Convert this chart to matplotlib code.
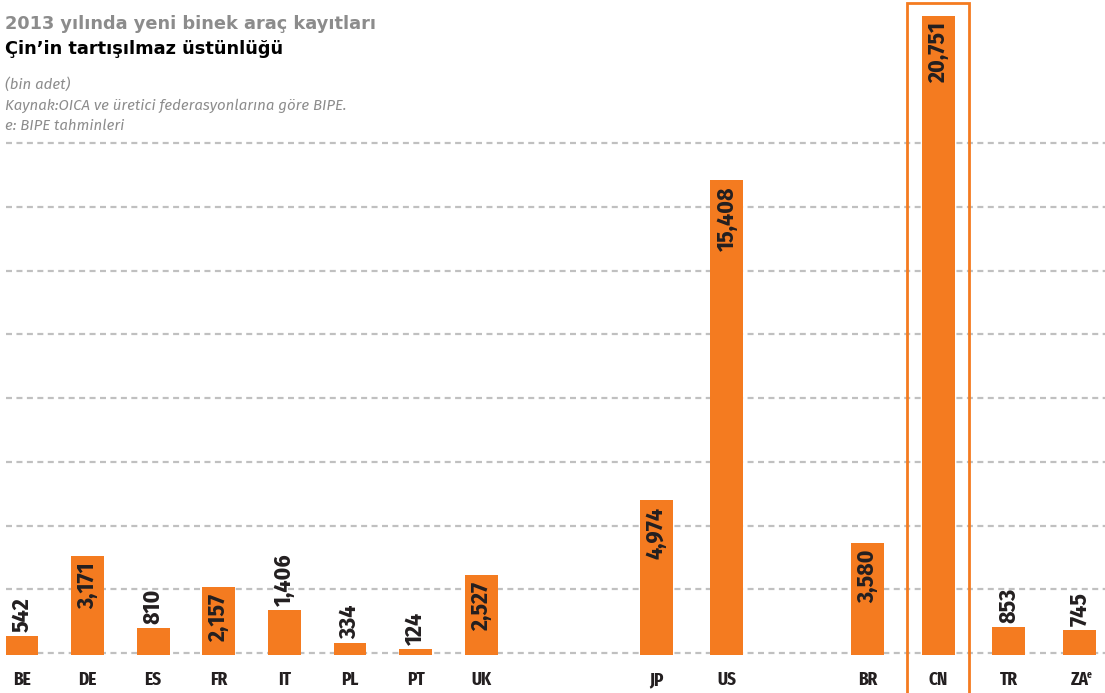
import numpy as np
import matplotlib.pyplot as plt
from matplotlib.patches import Rectangle
from matplotlib.transforms import blended_transform_factory

# 2013 new passenger car registrations (thousand units)
europe = ["BE", "DE", "ES", "FR", "IT", "PL", "PT", "UK"]
europe_vals = [542, 3171, 810, 2157, 1406, 334, 124, 2527]
others = ["JP", "US", "BR", "CN", "TR", "ZA"]
others_vals = [4974, 15408, 3580, 20751, 853, 745]
value_labels = ["542", "3,171", "810", "2,157", "1,406", "334", "124", "2,527",
                "4,974", "15,408", "3,580", "20,751", "853", "745"]

ORANGE = "#f47b20"
DARK = "#231f20"
GRAY = "#8c8c8c"
TITLE = ["DejaVu Sans"]
SANS = ["Fira Sans", "DejaVu Sans"]
COND = ["Fira Sans Condensed", "DejaVu Sans"]
XCOND = ["Fira Sans Extra Condensed", "DejaVu Sans"]

# layout: europe at unit pitch, the rest slightly wider with gaps
x_eu = np.arange(len(europe), dtype=float)
x_ot = 9.67 + 1.075 * np.array([0, 1, 3, 4, 5, 6])
xs = np.concatenate([x_eu, x_ot])
cats = europe + others
vals = europe_vals + others_vals

fig = plt.figure(figsize=(11.05, 6.93), dpi=100)
ax = fig.add_axes([0, 0, 1, 1])
ax.set_xlim(-0.335, 16.51)
ax.set_ylim(-1302, 21256)
ax.axis("off")

# dashed guide lines
for k in range(9):
    ax.plot([-0.25, 16.51], [k * 2075, k * 2075], color="#c0c0c0", lw=1.6,
            dashes=(2.7, 2.0), zorder=1, solid_capstyle="butt")

ax.bar(xs, np.array(vals) + 80, bottom=-80, width=0.5, color=ORANGE, zorder=2)

for x, v, lab in zip(xs, vals, value_labels):
    if v > 2000:
        ax.annotate(lab, (x, v), xytext=(0, -5), textcoords="offset points",
                    rotation=90, ha="center", va="top", fontsize=17,
                    fontweight="bold", family=COND, color=DARK, zorder=3)
    else:
        ax.annotate(lab, (x, v), xytext=(0, 3), textcoords="offset points",
                    rotation=90, ha="center", va="bottom", fontsize=17,
                    fontweight="bold", family=COND, color=DARK, zorder=3)

for x, c in zip(xs, cats):
    ax.text(x, -885, c, ha="center", va="center", fontsize=13.5,
            fontweight="bold", family=XCOND, color=DARK)
# superscript e on ZA
ax.annotate("e", (xs[-1], -885), xytext=(5, 3.5), textcoords="offset points",
            ha="left", va="center", fontsize=7.5, fontweight="bold",
            family=XCOND, color=DARK)

# highlight frame around CN
trans = blended_transform_factory(ax.transData, ax.transAxes)
cn = xs[cats.index("CN")]
ax.add_patch(Rectangle((cn - 0.473, -0.05), 0.946, 1.05 - 3 / 693, transform=trans,
                       fill=False, edgecolor=ORANGE, lw=2, clip_on=False, zorder=4))

fig.text(5 / 1105, 1 - 24 / 693, "2013 yılında yeni binek araç kayıtları",
         fontsize=12.8, fontweight="bold", family=TITLE, color=GRAY, va="center")
fig.text(5 / 1105, 1 - 49 / 693, "Çin’in tartışılmaz üstünlüğü",
         fontsize=12.8, fontweight="bold", family=TITLE, color="black", va="center")
fig.text(5 / 1105, 1 - 84 / 693, "(bin adet)", fontsize=10.8, style="italic",
         family=SANS, color=GRAY, va="center")
fig.text(5 / 1105, 1 - 106 / 693, "Kaynak:OICA ve üretici federasyonlarına göre BIPE.",
         fontsize=10.8, style="italic", family=SANS, color=GRAY, va="center")
fig.text(5 / 1105, 1 - 126 / 693, "e: BIPE tahminleri", fontsize=10.8,
         style="italic", family=SANS, color=GRAY, va="center")

fig.savefig("out.png", dpi=100)
